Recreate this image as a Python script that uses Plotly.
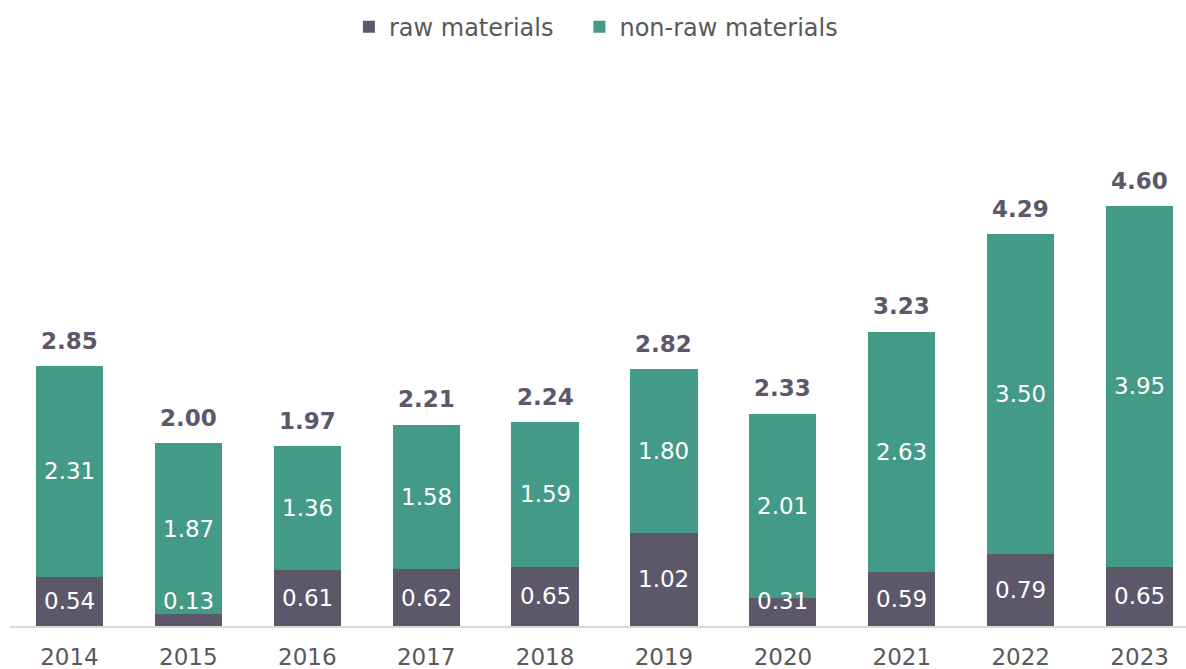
import plotly.graph_objects as go

years = ["2014", "2015", "2016", "2017", "2018", "2019", "2020", "2021", "2022", "2023"]
raw = [0.54, 0.13, 0.61, 0.62, 0.65, 1.02, 0.31, 0.59, 0.79, 0.65]
non_raw = [2.31, 1.87, 1.36, 1.58, 1.59, 1.80, 2.01, 2.63, 3.50, 3.95]
totals = [2.85, 2.00, 1.97, 2.21, 2.24, 2.82, 2.33, 3.23, 4.29, 4.60]

RAW_C = "#5c5769"
NON_C = "#439a86"
TXT = "#595959"
FONT = "DejaVu Sans"

fig = go.Figure()
fig.add_trace(go.Bar(x=years, y=raw, name="raw materials", marker_color=RAW_C,
                     marker_line_width=0, width=0.565, legend="legend"))
fig.add_trace(go.Bar(x=years, y=non_raw, name="non-raw materials", marker_color=NON_C,
                     marker_line_width=0, width=0.565, legend="legend2"))

ann = []
for i, yr in enumerate(years):
    r = raw[i]
    n = non_raw[i]
    ann.append(dict(x=i, y=max(r / 2, 0.27), text=f"{r:.2f}", showarrow=False,
                    font=dict(family=FONT, size=23, color="white"), xref="x", yref="y"))
    ann.append(dict(x=i, y=r + n / 2, text=f"{n:.2f}", showarrow=False,
                    font=dict(family=FONT, size=23, color="white"), xref="x", yref="y"))
    ann.append(dict(x=i, y=totals[i], text=f"<b>{totals[i]:.2f}</b>", showarrow=False,
                    yanchor="middle", yshift=25,
                    font=dict(family=FONT, size=23, color=RAW_C), xref="x", yref="y"))

leg_common = dict(orientation="h", xanchor="left", y=1.058, yanchor="middle",
                  font=dict(family=FONT, size=24, color=TXT), bgcolor="rgba(0,0,0,0)")

fig.update_layout(
    barmode="stack",
    width=1186, height=669,
    margin=dict(l=10, r=0, t=60, b=43),
    paper_bgcolor="white", plot_bgcolor="white",
    font=dict(family=FONT, size=23, color=TXT),
    showlegend=True,
    legend=dict(x=0.2882, **leg_common),
    legend2=dict(x=0.4842, **leg_common),
    annotations=ann,
    xaxis=dict(type="category", range=[-0.5, 9.39], showline=True, linecolor="#d9d9d9",
               linewidth=2, ticks="", showgrid=False, tickfont=dict(family=FONT, size=23, color=TXT),
               ticklabelstandoff=9, automargin=False),
    yaxis=dict(range=[0, 6.2], visible=False, showgrid=False, zeroline=False, automargin=False),
)
fig.write_html("out.html", config={"displayModeBar": False},
               post_script="document.body.style.margin='0';")
